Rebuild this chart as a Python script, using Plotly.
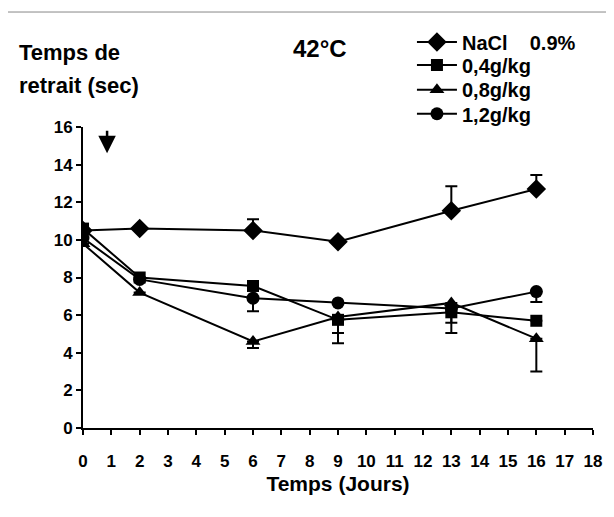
import plotly.graph_objects as go

days = [0, 2, 6, 9, 13, 16]

nacl = [10.5, 10.6, 10.5, 9.9, 11.55, 12.7]
nacl_up = [0, 0, 0.6, 0, 1.3, 0.75]
nacl_dn = [0, 0, 0, 0, 0, 0]

g04 = [10.6, 8.0, 7.55, 5.75, 6.15, 5.7]
g04_up = [0, 0, 0, 0, 0, 0]
g04_dn = [0, 0, 0, 0.7, 0.55, 0]

g08 = [9.8, 7.2, 4.6, 5.9, 6.65, 4.75]
g08_up = [0, 0, 0, 0, 0, 0]
g08_dn = [0, 0, 0.35, 1.4, 1.6, 1.75]

g12 = [10.1, 7.9, 6.9, 6.65, 6.35, 7.25]
g12_up = [0, 0, 0, 0, 0, 0]
g12_dn = [0, 0, 0.7, 0, 0, 0.55]

names = ["NaCl\u00a0\u00a0\u00a0\u00a00.9%", "0,4g/kg", "0,8g/kg", "1,2g/kg"]
x_ticks = list(range(0, 19))
y_ticks = list(range(0, 17, 2))

FONT = "Arial, Liberation Sans, sans-serif"

series = [
    (nacl, nacl_up, nacl_dn, "diamond", 15),
    (g04, g04_up, g04_dn, "square", 12),
    (g08, g08_up, g08_dn, "triangle-up", 13),
    (g12, g12_up, g12_dn, "circle", 13),
]
legend_ids = ["legend", "legend2", "legend3", "legend4"]
legend_y = [1.282, 1.206, 1.124, 1.044]

fig = go.Figure()
for (vals, up, dn, sym, sz), nm, lid in zip(series, names, legend_ids):
    fig.add_trace(go.Scatter(
        x=days, y=vals, name=nm, mode="lines+markers", legend=lid,
        line=dict(color="black", width=2),
        marker=dict(symbol=sym, size=sz, color="black"),
        error_y=dict(type="data", symmetric=False, array=up, arrayminus=dn,
                     color="black", thickness=2, width=6),
    ))

legend_layout = {}
for lid, ly in zip(legend_ids, legend_y):
    legend_layout[lid] = dict(x=0.645, y=ly, xanchor="left", yanchor="middle",
                              font=dict(family=FONT, size=20, color="black", weight="bold"),
                              bgcolor="rgba(0,0,0,0)", itemwidth=40)

fig.update_layout(
    width=614, height=517,
    margin=dict(l=75, r=29, t=119, b=97),
    paper_bgcolor="white", plot_bgcolor="white",
    font=dict(family=FONT, color="black"),
    showlegend=True,
    xaxis=dict(range=[0, 18], tickvals=x_ticks, ticktext=[str(t) for t in x_ticks],
               showgrid=False, zeroline=False, showline=True, linecolor="black", linewidth=2,
               ticks="outside", ticklen=5, tickwidth=2, tickcolor="black",
               ticklabelstandoff=12,
               tickfont=dict(family=FONT, size=17, color="black", weight="bold"),
               title=dict(text="Temps (Jours)",
                          font=dict(family=FONT, size=21, color="black", weight="bold"),
                          standoff=6)),
    yaxis=dict(range=[0, 16], tickvals=y_ticks, ticktext=[str(t) for t in y_ticks],
               showgrid=False, zeroline=False, showline=True, linecolor="black", linewidth=2,
               ticks="outside", ticklen=5, tickwidth=2, tickcolor="black",
               tickfont=dict(family=FONT, size=17, color="black", weight="bold")),
    **legend_layout,
)

fig.add_annotation(x=0.465, y=1.312, xref="paper", yref="paper", text="<b>42°C</b>",
                   showarrow=False, font=dict(family=FONT, size=24, color="black"))
fig.add_annotation(x=-0.129, y=1.246, xref="paper", yref="paper", xanchor="left", yanchor="middle",
                   text="<b>Temps de</b>", showarrow=False,
                   font=dict(family=FONT, size=22, color="black"))
fig.add_annotation(x=-0.129, y=1.137, xref="paper", yref="paper", xanchor="left", yanchor="middle",
                   text="<b>retrait (sec)</b>", showarrow=False,
                   font=dict(family=FONT, size=22, color="black"))
fig.add_annotation(x=0.85, y=14.6, xref="x", yref="y", text="", showarrow=True,
                   ax=0, ay=-24, arrowhead=2, arrowsize=1.4, arrowwidth=2.5, arrowcolor="black")
fig.add_shape(type="rect", xref="paper", yref="paper", x0=-0.153, x1=1.2, y0=-0.5, y1=1.382,
              line=dict(color="#888", width=1))

fig.write_html("out.html")
